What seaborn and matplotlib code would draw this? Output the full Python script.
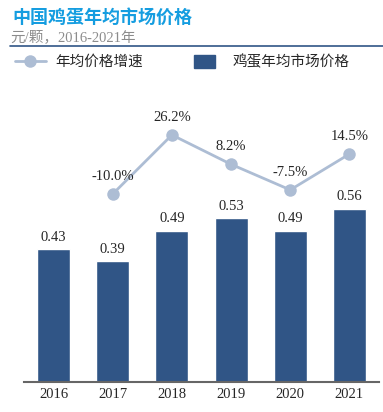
import matplotlib
matplotlib.use("Agg")
import matplotlib.pyplot as plt
import matplotlib.lines as mlines
import matplotlib.patches as mpatches
import seaborn as sns
import pandas as pd

years = ["2016", "2017", "2018", "2019", "2020", "2021"]
price = [0.43, 0.39, 0.49, 0.53, 0.49, 0.56]
growth_years = ["2017", "2018", "2019", "2020", "2021"]
growth = [-10.0, 26.2, 8.2, -7.5, 14.5]

title = "中国鸡蛋年均市场价格"
subtitle = "元/颗，2016-2021年"
legend_line = "年均价格增速"
legend_bar = "鸡蛋年均市场价格"

bar_color = "#305586"
line_color = "#adbdd4"
mixed = ["Liberation Serif", "Noto Sans CJK SC"]

sns.set_theme(style="white")
plt.rcParams["font.family"] = mixed

df_bar = pd.DataFrame({"year": years, "price": price})
df_line = pd.DataFrame({"pos": [years.index(y) for y in growth_years], "growth": growth})

fig = plt.figure(figsize=(3.83, 4.12), dpi=100)
ax = fig.add_axes([24 / 383, 30 / 412, 355 / 383, 302 / 412])
sns.barplot(data=df_bar, x="year", y="price", color=bar_color, saturation=1,
            width=0.56, ax=ax)
ax.set_xlim(-0.5, 5.5)
ax.set_ylim(0, 0.977)
for i, v in enumerate(df_bar["price"]):
    ax.annotate(f"{v:.2f}", (i, v), xytext=(0, 4), textcoords="offset points",
                ha="center", va="bottom", fontsize=10.5, family="Liberation Serif")

ax2 = ax.twinx()
sns.lineplot(data=df_line, x="pos", y="growth", color=line_color, lw=2,
             marker="o", markersize=9, markeredgewidth=0, ax=ax2)
ax2.set_ylim(-125.3, 59.9)
for p, g in zip(df_line["pos"], df_line["growth"]):
    ax2.annotate(f"{g:.1f}%", (p, g), xytext=(0, 8), textcoords="offset points",
                 ha="center", va="bottom", fontsize=10.5, family="Liberation Serif")

for a in (ax, ax2):
    a.set_xlabel("")
    a.set_ylabel("")
    a.set_yticks([])
    for s in ["top", "left", "right", "bottom"]:
        a.spines[s].set_visible(False)
ax.spines["bottom"].set_visible(True)
ax.spines["bottom"].set_color("#666666")
ax.spines["bottom"].set_linewidth(1.5)
ax.tick_params(axis="x", length=0, labelsize=10.5, pad=4)
for t in ax.get_xticklabels():
    t.set_family("Liberation Serif")

# header
fig.text(12 / 383, 1 - 17 / 412, title, fontsize=13, fontweight="bold",
         color="#159de0", family="Noto Sans CJK SC", va="center", ha="left")
fig.text(10 / 383, 1 - 37 / 412, subtitle, fontsize=10.5, color="#8c8c8c",
         family=mixed, va="center", ha="left")
fig.add_artist(mlines.Line2D([10 / 383, 1], [1 - 46 / 412, 1 - 46 / 412],
                             color=bar_color, lw=1.2, transform=fig.transFigure))

# legend, two pieces so the handles can differ in size
h_line = mlines.Line2D([], [], color=line_color, lw=2, marker="o", markersize=9,
                       markeredgewidth=0)
h_bar = mpatches.Patch(color=bar_color)
leg1 = fig.legend([h_line], [legend_line], frameon=False, loc="center left",
                  bbox_to_anchor=(15 / 383, 1 - 62 / 412), borderpad=0, borderaxespad=0,
                  prop={"family": "Noto Sans CJK SC", "size": 10.5},
                  handlelength=2.1, handletextpad=0.7)
leg2 = fig.legend([h_bar], [legend_bar], frameon=False, loc="center left",
                  bbox_to_anchor=(194 / 383, 1 - 62 / 412), borderpad=0, borderaxespad=0,
                  prop={"family": "Noto Sans CJK SC", "size": 10.5},
                  handlelength=1.45, handleheight=1.0, handletextpad=1.2)

fig.savefig("out.png", dpi=100)
